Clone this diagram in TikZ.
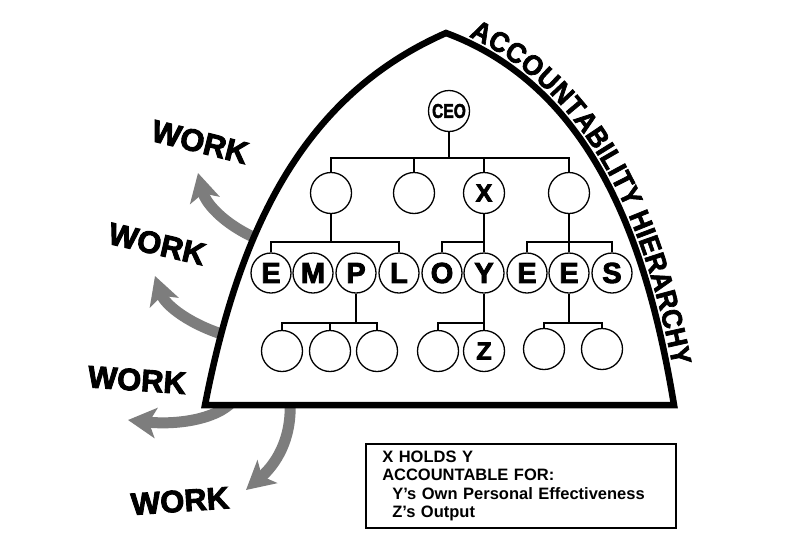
\documentclass[tikz,border=0pt]{standalone}
\usepackage{fontspec}
\setmainfont{Liberation Sans}
\newfontfamily\condfont[FakeStretch=0.94, FakeBold=2.5]{Liberation Sans}
\newfontfamily\ceofont[FakeStretch=0.78, FakeBold=2]{Liberation Sans}
\newfontfamily\heavyfont[FakeBold=3]{Liberation Sans}
\usetikzlibrary{arrows.meta,decorations.text}
\definecolor{arrowgray}{RGB}{125,125,125}
\newcommand\hierfont{\condfont\bfseries\fontsize{28}{28}\selectfont}
\tikzset{
  orgbox/.style={circle, draw, line width=1.3pt, minimum size=41pt, inner sep=0pt,
    font=\heavyfont\bfseries\fontsize{29}{29}\selectfont},
  empbox/.style={orgbox, minimum size=40pt},
  orgline/.style={line width=1.3pt},
  workarrow/.style={draw=arrowgray, line width=11pt,
    -{Stealth[length=28pt,width=30pt,inset=7pt]}},
  worklabel/.style={font=\heavyfont\bfseries\fontsize{31}{31}\selectfont, inner sep=0pt},
  archline/.style={line width=6.5pt, line join=miter, fill=white},
}
\begin{document}
\begin{tikzpicture}[x=1pt,y=-1pt]
\useasboundingbox (0,0) rectangle (800,533);
\fill[white] (0,0) rectangle (800,533);

% WORK arrows (behind the arch)
\coordinate (a1s) at (265,242); \coordinate (a1e) at (198,173);
\coordinate (a2s) at (228,336); \coordinate (a2e) at (155,276);
\coordinate (a3s) at (232,402); \coordinate (a3e) at (128,420);
\coordinate (a4s) at (290,402); \coordinate (a4e) at (246,490);
\draw[workarrow] (a1s) .. controls (228,228) and (206,205) .. (a1e);
\draw[workarrow] (a2s) .. controls (190,325) and (165,305) .. (a2e);
\draw[workarrow] (a3s) .. controls (215,420) and (175,425) .. (a3e);
\draw[workarrow] (a4s) .. controls (292,440) and (275,465) .. (a4e);

% arch
\draw[archline] (205,405) .. controls (240,225) and (305,95) .. (446,33)
  .. controls (600,90) and (650,260) .. (674,405) -- cycle;
\path[decorate, decoration={text along path,
    text={|\hierfont|ACCOUNTABILITY HIERARCHY},
    raise=5.5pt, text align={left indent=22pt}}]
  (446,33) .. controls (600,90) and (650,260) .. (674,405);

% WORK labels
\node[worklabel, rotate=-14] (w1) at (200,142) {WORK};
\node[worklabel, rotate=-13] (w2) at (157,244) {WORK};
\node[worklabel, rotate=-4] (w3) at (137,380) {WORK};
\node[worklabel, rotate=4] (w4) at (180,501) {WORK};

% org chart
\node[orgbox, font=\ceofont\bfseries\fontsize{20}{20}\selectfont] (ceo) at (449,111) {CEO};
\node[orgbox] (b1) at (331,193) {};
\node[orgbox] (b2) at (414,193) {};
\node[orgbox, font=\heavyfont\bfseries\fontsize{25}{25}\selectfont] (bx) at (484,193) {X};
\node[orgbox] (b4) at (569,193) {};

\node[empbox] (e1) at (271,273) {E};
\node[empbox] (m1) at (313,273) {M};
\node[empbox] (p1) at (356,273) {P};
\node[empbox] (l1) at (399,273) {L};
\node[empbox] (o1) at (442,273) {O};
\node[empbox] (y1) at (484,273) {Y};
\node[empbox] (e2) at (527,273) {E};
\node[empbox] (e3) at (569,273) {E};
\node[empbox] (s1) at (612,273) {S};

\node[orgbox] (q1) at (282,351) {};
\node[orgbox] (q2) at (330,351) {};
\node[orgbox] (q3) at (377,351) {};
\node[orgbox] (r1) at (438,351) {};
\node[orgbox, font=\heavyfont\bfseries\fontsize{25}{25}\selectfont] (z) at (484,351) {Z};
\node[orgbox] (t1) at (544,349) {};
\node[orgbox] (t2) at (602,349) {};

\coordinate (bar1) at (0,158);
\coordinate (bar2) at (0,242);
\coordinate (bar3) at (0,323);
\draw[orgline] (ceo.south) -- (ceo.south |- bar1);
\draw[orgline] (b1.north) -- (b1.north |- bar1) -- (b4.north |- bar1) -- (b4.north);
\draw[orgline] (b2.north) -- (b2.north |- bar1);
\draw[orgline] (bx.north) -- (bx.north |- bar1);

\draw[orgline] (b1.south) -- (b1.south |- bar2);
\draw[orgline] (e1.north) -- (e1.north |- bar2) -- (l1.north |- bar2) -- (l1.north);
\draw[orgline] (bx.south) -- (y1.north);
\draw[orgline] (o1.north) -- (o1.north |- bar2) -- (y1.north |- bar2);
\draw[orgline] (b4.south) -- (e3.north);
\draw[orgline] (e2.north) -- (e2.north |- bar2) -- (s1.north |- bar2) -- (s1.north);

\draw[orgline] (p1.south) -- (p1.south |- bar3);
\draw[orgline] (q1.north) -- (q1.north |- bar3) -- (q3.north |- bar3) -- (q3.north);
\draw[orgline] (q2.north) -- (q2.north |- bar3);
\draw[orgline] (y1.south) -- (z.north);
\draw[orgline] (r1.north) -- (r1.north |- bar3) -- (z.north |- bar3);
\draw[orgline] (e3.south) -- (e3.south |- bar3);
\draw[orgline] (t1.north) -- (t1.north |- bar3) -- (t2.north |- bar3) -- (t2.north);

% legend
\node[draw, line width=1.5pt, anchor=north west, align=left,
      text width=277pt, inner xsep=16.5pt, inner ysep=7pt, minimum height=84pt,
      font=\bfseries\fontsize{16.5}{18.4}\selectfont] (legend) at (365,443)
  {X HOLDS Y\\ACCOUNTABLE FOR:\\\hspace*{10pt}Y’s Own Personal Effectiveness\\\hspace*{10pt}Z’s Output};
\end{tikzpicture}
\end{document}
